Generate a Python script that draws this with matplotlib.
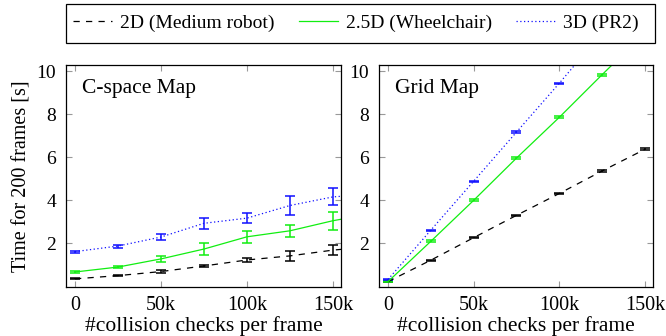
import matplotlib.pyplot as plt
from matplotlib.patches import Rectangle

plt.rcParams['font.family'] = ['Liberation Serif', 'DejaVu Serif']

# collision checks per frame
checks = [0, 25000, 50000, 75000, 100000, 125000, 150000]
checks_cs = [0, 25000, 50000, 75000, 100000, 125000, 150000, 175000]
xtick_vals = [0, 50000, 100000, 150000]
xtick_labels = ['0', '50k', '100k', '150k']
ytick_vals = [2, 4, 6, 8, 10]

labels = ['2D (Medium robot)', '2.5D (Wheelchair)', '3D (PR2)']

# C-space map timings [s] and std
cs_2d = [0.33, 0.48, 0.67, 0.93, 1.21, 1.40, 1.67, 1.85]
cs_2d_err = [0.03, 0.03, 0.05, 0.06, 0.10, 0.22, 0.22, 0.2]
cs_25d = [0.65, 0.88, 1.26, 1.72, 2.29, 2.57, 3.04, 3.4]
cs_25d_err = [0.03, 0.05, 0.13, 0.29, 0.28, 0.28, 0.42, 0.4]
cs_3d = [1.60, 1.86, 2.28, 2.92, 3.16, 3.75, 4.15, 4.3]
cs_3d_err = [0.05, 0.07, 0.14, 0.25, 0.23, 0.44, 0.40, 0.4]

# Grid map timings [s] and std
gr_2d = [0.20, 1.20, 2.25, 3.29, 4.31, 5.36, 6.37]
gr_2d_err = [0.03, 0.03, 0.03, 0.03, 0.03, 0.03, 0.04]
gr_25d = [0.20, 2.08, 3.99, 5.96, 7.86, 9.85, 11.8]
gr_25d_err = [0.03, 0.04, 0.04, 0.04, 0.04, 0.04, 0.04]
gr_3d = [0.30, 2.60, 4.88, 7.17, 9.45, 11.8, 14.1]
gr_3d_err = [0.03, 0.03, 0.03, 0.03, 0.03, 0.03, 0.03]

colors = ['black', '#11ee11', '#1010ff']
styles = [(0, (5, 5)), '-', (0, (1, 2))]

W, H = 666, 336
fig = plt.figure(figsize=(W / 100, H / 100), dpi=100)
ax1 = fig.add_axes([66 / W, 49 / H, 275 / W, 222 / H])
ax2 = fig.add_axes([379 / W, 49 / H, 274 / W, 222 / H])


def draw(ax, x, series, title):
    handles = []
    for (y, err), c, ls, lab in zip(series, colors, styles, labels):
        eb = ax.errorbar(x, y, yerr=err, color=c, linestyle=ls, linewidth=0.9,
                         elinewidth=1.1, capsize=3.5, capthick=1.1, label=lab)
        handles.append(eb[0])
    ax.set_xlim(-5250, 154700)
    ax.set_ylim(-0.05, 10.3)
    ax.set_xticks(xtick_vals)
    ax.set_xticklabels(xtick_labels)
    ax.set_yticks(ytick_vals)
    ax.tick_params(direction='in', top=True, right=True, length=4,
                   color='#999999')
    ax.tick_params(axis='x', labelsize=14.5, pad=6.5)
    ax.tick_params(axis='y', labelsize=14, pad=7)
    for s in ax.spines.values():
        s.set_linewidth(0.9)
    ax.set_xlabel('#collision checks per frame', fontsize=15.5, labelpad=1)
    ax.text(0.06, 0.895, title, transform=ax.transAxes, fontsize=15.5,
            va='center', ha='left')
    return handles


handles = draw(ax1, checks_cs,
               [(cs_2d, cs_2d_err), (cs_25d, cs_25d_err), (cs_3d, cs_3d_err)],
               'C-space Map')
draw(ax2, checks,
     [(gr_2d, gr_2d_err), (gr_25d, gr_25d_err), (gr_3d, gr_3d_err)],
     'Grid Map')
ax1.set_ylabel('Time for 200 frames [s]', fontsize=14.5, labelpad=4)

# legend entries without frame, box drawn separately
fig.legend(handles, labels, loc='center left', ncol=3,
           bbox_to_anchor=(73 / W, 1 - 23.5 / H),
           fontsize=14, frameon=False, handlelength=2.0,
           handletextpad=0.42, columnspacing=1.25,
           borderpad=0, borderaxespad=0)
fig.patches.append(Rectangle((66 / W, 1 - 43 / H), 589 / W, 39 / H,
                             transform=fig.transFigure, fill=False,
                             edgecolor='black', linewidth=0.9))

fig.savefig('out.png', dpi=100)
